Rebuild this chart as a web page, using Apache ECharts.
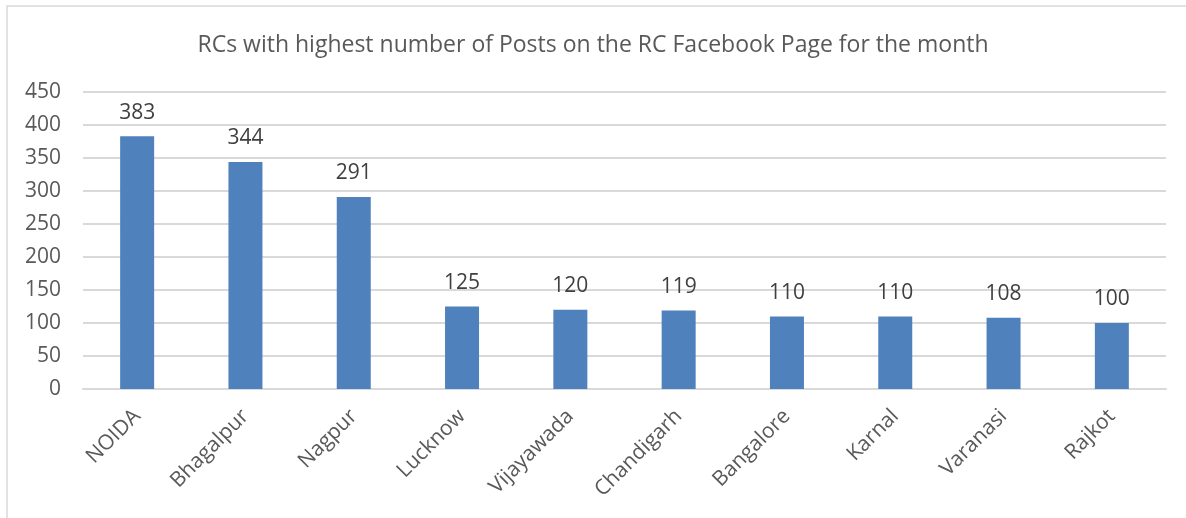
<!DOCTYPE html>
<html><head><meta charset="utf-8">
<script src="https://cdn.jsdelivr.net/npm/echarts@6/dist/echarts.min.js"></script>
<style>html,body{margin:0;padding:0;background:#fff}#c{width:1186px;height:518px}</style>
</head><body><div id="c"></div>
<script>
const categories = ["NOIDA","Bhagalpur","Nagpur","Lucknow","Vijayawada","Chandigarh","Bangalore","Karnal","Varanasi","Rajkot"];
const posts = [383,344,291,125,120,119,110,110,108,100];
const yTicks = [0,50,100,150,200,250,300,350,400,450];

const chart = echarts.init(document.getElementById('c'));
const font = "'Open Sans', sans-serif";
chart.setOption({
  animation:false,
  title:{text:"RCs with highest number of Posts on the RC Facebook Page for the month",left:'center',top:29,
    textStyle:{fontFamily:font,fontSize:23,fontWeight:'normal',color:'#595959'}},
  graphic:[{type:'rect',shape:{x:7,y:6,width:1300,height:700},style:{fill:'none',stroke:'#d9d9d9',lineWidth:1.5},silent:true}],
  grid:{left:83,right:20,top:92,bottom:129,containLabel:false},
  xAxis:{type:'category',data:categories,
    axisLine:{lineStyle:{color:'#d9d9d9',width:2}},axisTick:{show:false},
    axisLabel:{rotate:45,interval:0,margin:24,fontFamily:font,fontSize:21,color:'#595959'}},
  yAxis:{type:'value',min:yTicks[0],max:yTicks[yTicks.length-1],interval:50,
    axisLine:{show:false},axisTick:{show:false},
    splitLine:{lineStyle:{color:'#d9d9d9',width:2}},
    axisLabel:{margin:22,fontFamily:font,fontSize:21,color:'#595959'}},
  series:[{type:'bar',data:posts,barWidth:34,
    itemStyle:{color:'#4f81bd'},
    label:{show:true,position:'top',distance:13,fontFamily:font,fontSize:21,color:'#404040'}}]
});
</script></body></html>
